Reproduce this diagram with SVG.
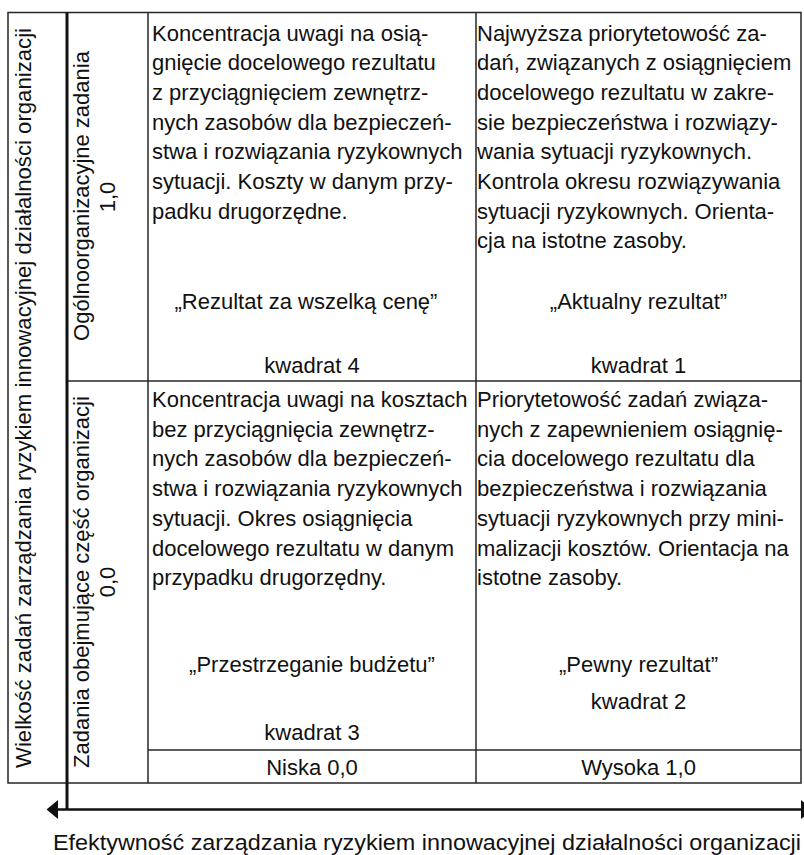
<svg xmlns="http://www.w3.org/2000/svg" width="804" height="855" viewBox="0 0 804 855">
  <style>
    .grid { stroke: #262626; stroke-width: 1.5; fill: none; }
    .axis { stroke: #111; fill: none; }
    .head { fill: #111; stroke: none; }
    text { font-family: "Liberation Sans", Arial, sans-serif; font-size: 22px; fill: #111; }
    .mid { text-anchor: middle; }
  </style>

  <rect width="804" height="855" fill="#ffffff"/>

  <!-- table frame and cell borders -->
  <g id="frame">
    <rect class="grid" x="8" y="12.5" width="793" height="770.5"/>
    <line class="grid" x1="148" y1="12.5" x2="148" y2="783"/>
    <line class="grid" x1="476" y1="12.5" x2="476" y2="783"/>
    <line class="grid" x1="67" y1="381" x2="801" y2="381"/>
    <line class="grid" x1="148" y1="750" x2="801" y2="750"/>
  </g>

  <!-- axes -->
  <g id="connectors">
    <line class="axis" x1="67" y1="12.5" x2="67" y2="809.5" stroke-width="3"/>
    <line class="axis" x1="56" y1="809.5" x2="802" y2="809.5" stroke-width="2.5"/>
    <polygon class="head" points="46.5,809.5 58,800 58,819"/>
    <polygon class="head" points="801,800 813,809.5 801,819"/>
  </g>

  <!-- vertical axis title -->
  <g id="y-axis-title">
    <text class="mid" transform="translate(31,398) rotate(-90)" textLength="740" lengthAdjust="spacingAndGlyphs">Wielkość zadań zarządzania ryzykiem innowacyjnej działalności organizacji</text>
  </g>

  <!-- row headers -->
  <g id="row-top-header">
    <text class="mid" transform="translate(88.5,196) rotate(-90)">Ogólnoorganizacyjne zadania</text>
    <text class="mid" transform="translate(115,197) rotate(-90)">1,0</text>
  </g>
  <g id="row-bottom-header">
    <text class="mid" transform="translate(88.5,582) rotate(-90)">Zadania obejmujące część organizacji</text>
    <text class="mid" transform="translate(115,582) rotate(-90)">0,0</text>
  </g>

  <!-- quadrant 4 -->
  <g id="kwadrat-4">
    <text x="152" y="40.5">Koncentracja uwagi na osią-</text>
    <text x="152" y="70.2">gnięcie docelowego rezultatu</text>
    <text x="152" y="99.9">z przyciągnięciem zewnętrz-</text>
    <text x="152" y="129.6">nych zasobów dla bezpieczeń-</text>
    <text x="152" y="159.3">stwa i rozwiązania ryzykownych</text>
    <text x="152" y="189">sytuacji. Koszty w danym przy-</text>
    <text x="152" y="218.7">padku drugorzędne.</text>
    <text class="mid" x="306" y="309">„Rezultat za wszelką cenę”</text>
    <text class="mid" x="312" y="373">kwadrat 4</text>
  </g>

  <!-- quadrant 1 -->
  <g id="kwadrat-1">
    <text x="477" y="40.5">Najwyższa priorytetowość za-</text>
    <text x="477" y="70.2">dań, związanych z osiągnięciem</text>
    <text x="477" y="99.9">docelowego rezultatu w zakre-</text>
    <text x="477" y="129.6">sie bezpieczeństwa i rozwiązy-</text>
    <text x="477" y="159.3">wania sytuacji ryzykownych.</text>
    <text x="477" y="189">Kontrola okresu rozwiązywania</text>
    <text x="477" y="218.7">sytuacji ryzykownych. Orienta-</text>
    <text x="477" y="248.4">cja na istotne zasoby.</text>
    <text class="mid" x="638.5" y="309">„Aktualny rezultat”</text>
    <text class="mid" x="638.5" y="373">kwadrat 1</text>
  </g>

  <!-- quadrant 3 -->
  <g id="kwadrat-3">
    <text x="152" y="407">Koncentracja uwagi na kosztach</text>
    <text x="152" y="436.7">bez przyciągnięcia zewnętrz-</text>
    <text x="152" y="466.4">nych zasobów dla bezpieczeń-</text>
    <text x="152" y="496.1">stwa i rozwiązania ryzykownych</text>
    <text x="152" y="525.8">sytuacji. Okres osiągnięcia</text>
    <text x="152" y="555.5">docelowego rezultatu w danym</text>
    <text x="152" y="585.2">przypadku drugorzędny.</text>
    <text class="mid" x="312" y="672">„Przestrzeganie budżetu”</text>
    <text class="mid" x="312" y="740">kwadrat 3</text>
  </g>

  <!-- quadrant 2 -->
  <g id="kwadrat-2">
    <text x="477" y="407">Priorytetowość zadań związa-</text>
    <text x="477" y="436.7">nych z zapewnieniem osiągnię-</text>
    <text x="477" y="466.4">cia docelowego rezultatu dla</text>
    <text x="477" y="496.1">bezpieczeństwa i rozwiązania</text>
    <text x="477" y="525.8">sytuacji ryzykownych przy mini-</text>
    <text x="477" y="555.5">malizacji kosztów. Orientacja na</text>
    <text x="477" y="585.2">istotne zasoby.</text>
    <text class="mid" x="638.5" y="672">„Pewny rezultat”</text>
    <text class="mid" x="638.5" y="709">kwadrat 2</text>
  </g>

  <!-- column scale labels -->
  <g id="col-low">
    <text class="mid" x="312" y="775">Niska 0,0</text>
  </g>
  <g id="col-high">
    <text class="mid" x="638.5" y="775">Wysoka 1,0</text>
  </g>

  <!-- horizontal axis title -->
  <g id="x-axis-title">
    <text x="53" y="850" textLength="748" lengthAdjust="spacingAndGlyphs">Efektywność zarządzania ryzykiem innowacyjnej działalności organizacji</text>
  </g>
</svg>
